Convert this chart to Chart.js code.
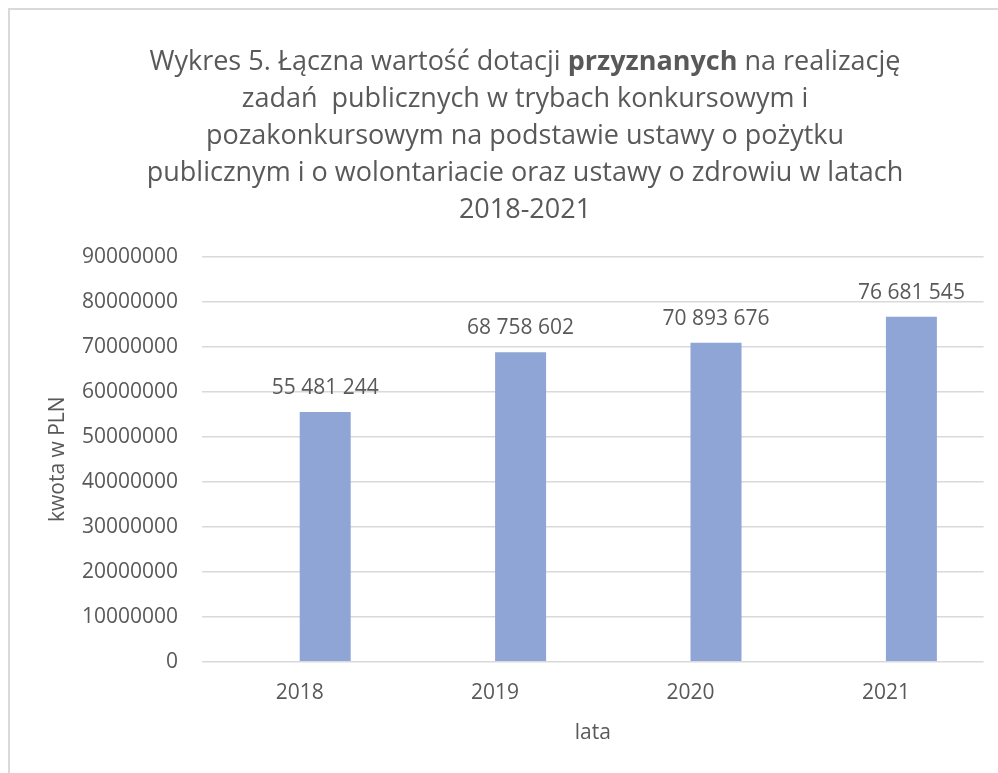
<!DOCTYPE html>
<html>
<head>
<meta charset="utf-8">
<script src="https://cdn.jsdelivr.net/npm/chart.js@4/dist/chart.umd.min.js"></script>
<style>
  html, body { margin: 0; padding: 0; background: #ffffff; overflow: hidden; }
  #wrap { position: relative; width: 998px; height: 773px; overflow: hidden; }
  #frame { position: absolute; left: 8px; top: 8px; width: 2000px; height: 2000px;
           border-left: 2px solid #d9d9d9; border-top: 2px solid #d9d9d9; box-sizing: border-box; }
  canvas { position: absolute; left: 0; top: 0; }
</style>
</head>
<body>
<div id="wrap">
  <div id="frame"></div>
  <canvas id="c" width="998" height="773"></canvas>
</div>
<script>
// ---- data ----
const categories = ['2018', '2019', '2020', '2021'];
const values = [55481244, 68758602, 70893676, 76681545];
const emptySeries = [null, null, null, null];
const yTicks = [0, 10000000, 20000000, 30000000, 40000000, 50000000, 60000000, 70000000, 80000000, 90000000];
const titleLines = [
  [{t: 'Wykres 5. Łączna wartość dotacji ', b: false}, {t: 'przyznanych', b: true}, {t: ' na realizację', b: false}],
  [{t: 'zadań  publicznych w trybach konkursowym i', b: false}],
  [{t: 'pozakonkursowym na podstawie ustawy o pożytku', b: false}],
  [{t: 'publicznym i o wolontariacie oraz ustawy o zdrowiu w latach', b: false}],
  [{t: '2018-2021', b: false}]
];
const yAxisTitle = 'kwota w PLN';
const xAxisTitle = 'lata';

const FONT = "'Open Sans', sans-serif";
const TEXT = '#595959';

function fmtSpace(v) {
  return String(v).replace(/\B(?=(\d{3})+(?!\d))/g, ' ');
}

const titlePlugin = {
  id: 'mixedTitle',
  afterDraw(chart) {
    const ctx = chart.ctx;
    const cx = 525, y0 = 62, lh = 37.2, size = 27;
    ctx.save();
    ctx.fillStyle = TEXT;
    ctx.textBaseline = 'middle';
    ctx.textAlign = 'left';
    titleLines.forEach((segs, i) => {
      let total = 0;
      const widths = segs.map(s => {
        ctx.font = (s.b ? 'bold ' : '') + size + 'px ' + FONT;
        const w = ctx.measureText(s.t).width;
        total += w;
        return w;
      });
      let x = cx - total / 2;
      segs.forEach((s, j) => {
        ctx.font = (s.b ? 'bold ' : '') + size + 'px ' + FONT;
        ctx.fillText(s.t, x, y0 + i * lh);
        x += widths[j];
      });
    });
    ctx.restore();
  }
};

const valueLabels = {
  id: 'valueLabels',
  afterDatasetsDraw(chart) {
    const ctx = chart.ctx;
    const meta = chart.getDatasetMeta(1);
    ctx.save();
    ctx.fillStyle = TEXT;
    ctx.font = '21px ' + FONT;
    ctx.textAlign = 'center';
    ctx.textBaseline = 'middle';
    meta.data.forEach((bar, i) => {
      ctx.fillText(fmtSpace(values[i]), bar.x, bar.y - 24);
    });
    ctx.restore();
  }
};

new Chart(document.getElementById('c'), {
  type: 'bar',
  data: {
    labels: categories,
    datasets: [
      { label: 'empty', data: emptySeries, backgroundColor: '#8FA5D5' },
      { label: 'kwota', data: values, backgroundColor: '#8FA5D5' }
    ]
  },
  options: {
    responsive: false,
    animation: false,
    events: [],
    categoryPercentage: 0.522,
    barPercentage: 1.0,
    layout: { padding: { left: 8, right: 14.4, top: 256.7, bottom: 0 } },
    plugins: {
      legend: { display: false },
      tooltip: { enabled: false },
      title: { display: false }
    },
    scales: {
      x: {
        grid: { display: false, drawTicks: false },
        border: { display: false },
        ticks: { color: TEXT, font: { family: FONT, size: 21 }, padding: 19 },
        title: { display: true, text: xAxisTitle, color: TEXT,
                 font: { family: FONT, size: 21 }, padding: { top: 0, bottom: 27.4 } },
        afterFit(scale) { scale.height = 773 - 661.7; }
      },
      y: {
        min: 0, max: 90000000,
        afterBuildTicks(scale) { scale.ticks = yTicks.map(v => ({ value: v })); },
        grid: { color: '#d9d9d9', lineWidth: 1.5, drawTicks: false },
        border: { display: false },
        ticks: { color: TEXT, font: { family: FONT, size: 21 }, padding: 24,
                 callback: v => String(v) },
        title: { display: true, text: yAxisTitle, color: TEXT,
                 font: { family: FONT, size: 21 }, padding: { top: 37.4, bottom: 0 } },
        afterFit(scale) { scale.width = 194; }
      }
    }
  },
  plugins: [titlePlugin, valueLabels]
});
</script>
</body>
</html>
